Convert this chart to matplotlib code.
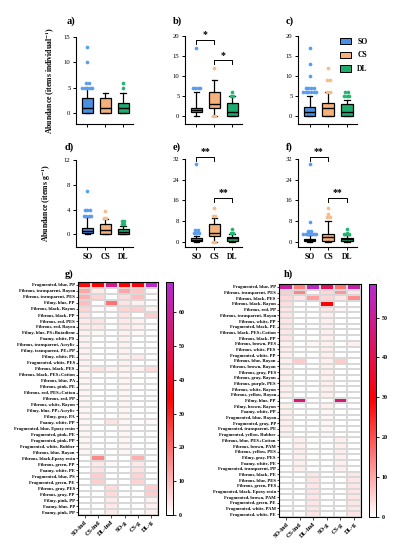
import numpy as np
import matplotlib
matplotlib.use("Agg")
import matplotlib.pyplot as plt
from matplotlib.colors import LinearSegmentedColormap
from matplotlib.patches import Patch

plt.rcParams['font.family'] = ['Liberation Serif', 'DejaVu Serif']
plt.rcParams['mathtext.fontset'] = 'stix'

# ---------------- data ----------------
groups = ["SO", "CS", "DL"]
colors = ["#4a8fe2", "#f4b27a", "#1faa6e"]
flier_colors = ["#5a9cf0", "#f6bd8c", "#22b673"]

# box stats per panel: (q1, median, q3, whisker low, whisker high) for SO, CS, DL
box_a = [(0, 1, 3, 0, 5), (0, 1, 3, 0, 4), (0, 1, 2, 0, 4)]
box_b = [(1, 1.5, 2, 0, 6), (2, 3, 6, 0, 9), (0, 1, 3.2, 0, 5)]
box_c = [(0, 1, 2.2, 0, 5), (0, 2, 3.2, 0, 6), (0, 1, 3, 0, 4)]
box_d = [(0.2, 0.5, 1.0, 0, 2.8), (0, 0.7, 1.7, 0, 2.4), (0.1, 0.4, 0.9, 0, 1.3)]
box_e = [(0.2, 0.6, 1.2, 0, 2.3), (2.2, 3.5, 6.8, 0, 9.1), (0.3, 1.2, 1.9, 0, 2.9)]
box_f = [(0.1, 0.5, 1.0, 0, 2.5), (0.3, 1.8, 3.0, 0, 7.8), (0.2, 0.8, 1.5, 0, 2.5)]

# outlier points per panel (SO, CS, DL)
out_a = [[5, 5, 5, 5, 5, 6, 6, 10, 13], [], [5, 6]]
out_b = [[7, 7, 7, 7, 17], [0, 0, 12], [5, 5, 6]]
out_c = [[6, 6, 6, 6, 6, 6, 7, 7, 7, 7, 10, 13, 17], [6, 6, 9, 9, 12], [5, 5, 5, 6, 6]]
out_d = [[2.9, 2.9, 2.9, 2.9, 3.9, 3.9, 3.9, 7.0], [2.6, 2.6, 3.7], [1.6, 1.6, 2.1, 2.1]]
out_e = [[3.2, 3.2, 3.2, 3.4, 4.3, 4.3, 30], [0, 0, 10, 10, 13], [3.4, 3.4, 5.0]]
out_f = [[3, 3, 3, 3, 3, 3, 3.5, 3.5, 4, 4, 7.4, 30], [9.5, 9.5, 10.5, 13], [3, 3, 3, 3.5, 4.7]]

yticks_a = [0, 5, 10, 15]
yticks_bc = [0, 5, 10, 15, 20]
yticks_d = [0, 4, 8, 12]
yticks_ef = [0, 8, 16, 24, 32]

# significance brackets: (from, to, height, label)
sig_b = [(1, 2, 19, "*"), (2, 3, 13.9, "*")]
sig_e = [(1, 2, 32.9, "**"), (2, 3, 17, "**")]
sig_f = [(1, 2, 32.9, "**"), (2, 3, 17, "**")]

heat_cols = ["SO-ind", "CS-ind", "DL-ind", "SO-g", "CS-g", "DL-g"]

rows_g = ["Fragmented, blue, PP", "Fibrous, transparent, Rayon", "Fibrous, transparent, PES",
          "Filmy, blue, PP", "Fibrous, black, Rayon", "Fibrous, black, PP", "Fibrous, red, PES",
          "Fibrous, red, Rayon", "Filmy, blue, PS+Butadiene", "Foamy, white, PS",
          "Fibrous, transparent, Acrylic", "Filmy, transparent, PE+PP", "Filmy, white, PE",
          "Fragmented, white, PES", "Fibrous, black, PES", "Fibrous, black, PES+Cotton",
          "Fibrous, blue, PA", "Fibrous, pink, PE", "Fibrous, red, PES+Cotton", "Fibrous, red, PP",
          "Fibrous, white, Rayon", "Filmy, blue, PP+Acrylic", "Filmy, gray, PA", "Foamy, white, PP",
          "Fragmented, blue, Epoxy resin", "Fragmented, pink, PE", "Fragmented, pink, PP",
          "Fragmented, white, Rubber", "Fibrous, blue, Rayon", "Fibrous, black,Epoxy resin",
          "Fibrous, green, PP", "Foamy, white, PE", "Fragmented, blue, PS", "Fragmented, green, PE",
          "Fibrous, gray, PES", "Fibrous, gray, PP", "Filmy, pink, PP", "Foamy, blue, PP",
          "Foamy, pink, PP"]

vals_g = [[33, 35, 57, 34, 36, 67],
          [12, 3, 0, 12, 8, 1],
          [11, 6, 0, 5, 9, 0],
          [9, 0, 19, 4, 2, 0],
          [6, 1, 1, 6, 7, 2],
          [4, 0, 0, 4, 0, 7],
          [3, 4, 0, 3, 2, 0],
          [3, 3, 0, 3, 2, 0],
          [2, 1, 0, 2, 1, 0],
          [2, 0, 0, 2, 0, 0],
          [2, 0, 0, 2, 0, 0],
          [2, 0, 0, 2, 0, 0],
          [2, 0, 0, 2, 3, 0],
          [2, 0, 0, 2, 0, 0],
          [2, 4, 2, 2, 2, 5],
          [1.5, 0, 0, 1.5, 0, 0],
          [1.5, 0, 0, 1.5, 0, 0],
          [1.5, 0, 0, 1.5, 0, 0],
          [1.5, 0, 0, 1.5, 0, 0],
          [1.5, 0, 0, 1.5, 0, 0],
          [1.5, 0, 0, 1.5, 0, 0],
          [1.5, 0, 0, 1.5, 0, 0],
          [1.5, 0, 0, 1.5, 0, 0],
          [1.5, 0, 4, 1.5, 0, 1],
          [1.5, 0, 0, 1.5, 0, 0],
          [1.5, 0, 0, 1.5, 0, 0],
          [1.5, 0, 0, 1.5, 0, 0],
          [1.5, 0, 0, 1.5, 0, 0],
          [1.5, 0, 0, 1.5, 0, 0],
          [0, 16, 0, 0, 11, 0],
          [0, 3, 1, 0, 3, 0],
          [0, 4, 0, 0, 4, 0],
          [0, 7, 0, 0, 6, 0],
          [0, 7, 0, 0, 6, 0],
          [0, 0, 5, 0, 0, 7],
          [0, 0, 5, 0, 0, 7],
          [0, 0, 3, 0, 0, 2],
          [0, 0, 3, 0, 0, 2],
          [0, 0, 3, 0, 0, 2]]

rows_h = ["Fragmented, blue, PP", "Fibrous, transparent, PES", "Fibrous, black, PES",
          "Fibrous, black, Rayon", "Fibrous, red, PP", "Fibrous, transparent, Rayon",
          "Fibrous, white, PP", "Fragmented, black, PE", "Fibrous, black, PES+Cotton",
          "Fibrous, black, PP", "Fibrous, brown, PES", "Fibrous, white, PES",
          "Fragmented, white, PP", "Fibrous, blue, Rayon", "Fibrous, brown, Rayon",
          "Fibrous, gray, PES", "Fibrous, gray, Rayon", "Fibrous, purple, PES",
          "Fibrous, white, Rayon", "Fibrous, yellow, Rayon", "Filmy, blue, PP",
          "Filmy, brown, Rayon", "Foamy, white, PP", "Fragmented, blue, Rayon",
          "Fragmented, gray, PP", "Fragmented, transparent, PE", "Fragmented, yellow, Rubber",
          "Fibrous, blue, PES+Cotton", "Fibrous, brown, PAM", "Fibrous, yellow, PES",
          "Filmy, gray, PES", "Foamy, white, PE", "Fragmented, transparent, PP",
          "Fibrous, black, PE", "Fibrous, blue, PES", "Fibrous, green, PES",
          "Fragmented, black, Epoxy resin", "Fragmented, brown, PAM", "Fragmented, green, PE",
          "Fragmented, white, PAM", "Fragmented, white, PE"]

vals_h = [[51, 15, 57, 42, 16, 52],
          [6, 14, 1, 5, 12, 3],
          [5, 3, 11, 5, 3, 13],
          [4, 0, 0, 29, 0, 0],
          [3, 0, 0, 3, 1, 0],
          [3, 0, 0, 2, 0, 0],
          [3, 0, 0, 2, 0, 0],
          [3, 0, 0, 2, 0, 0],
          [3, 0, 0, 2, 0, 0],
          [3, 0, 0, 2, 0, 0],
          [2, 0, 1, 2, 0, 2],
          [2, 0, 0, 2, 0, 0],
          [2, 0, 0, 2, 0, 0],
          [2, 6, 0, 2, 6, 0],
          [2, 0, 0, 2, 0, 0],
          [2, 0, 0, 2, 0, 0],
          [2, 0, 0, 2, 0, 0],
          [2, 0, 0, 2, 0, 0],
          [2, 0, 0, 2, 0, 0],
          [2, 0, 0, 2, 0, 0],
          [0, 46, 0, 0, 46, 0],
          [2, 0, 0, 2, 0, 0],
          [2, 0, 0, 1, 0, 0],
          [2, 0, 0, 1, 0, 0],
          [2, 0, 0, 1, 0, 0],
          [2, 0, 0, 1, 0, 0],
          [2, 0, 0, 1, 0, 0],
          [0, 2, 0, 0, 2, 0],
          [0, 2, 0, 0, 2, 0],
          [0, 2, 0, 0, 2, 0],
          [0, 2, 0, 0, 2, 0],
          [0, 2, 0, 0, 2, 0],
          [0, 2, 0, 0, 2, 0],
          [0, 0, 3, 0, 0, 3],
          [0, 0, 3, 0, 0, 3],
          [0, 0, 3, 0, 0, 3],
          [0, 0, 3, 0, 0, 3],
          [0, 0, 3, 0, 0, 3],
          [0, 0, 3, 0, 0, 3],
          [0, 0, 3, 0, 0, 3],
          [0, 0, 3, 0, 0, 3]]

W, H = 394, 547
fig = plt.figure(figsize=(W / 100, H / 100), dpi=100)


def place(l, t, r, b):
    # pixel box -> figure fraction
    return [l / W, 1 - b / H, (r - l) / W, (b - t) / H]


def spread(vals, step=0.14):
    # side by side offsets for equal values (simple swarm)
    xs = []
    seen = {}
    for v in vals:
        seen[v] = seen.get(v, 0) + 1
    done = {}
    for v in vals:
        n = seen[v]
        k = done.get(v, 0)
        done[v] = k + 1
        xs.append((k - (n - 1) / 2) * step)
    return np.array(xs)


def boxpanel(rect, boxes, outs, ylim, yticks, xlabels, sigs=None):
    ax = fig.add_axes(place(*rect))
    stats = []
    for (q1, med, q3, lo, hi) in boxes:
        stats.append(dict(q1=q1, med=med, q3=q3, whislo=lo, whishi=hi, fliers=[]))
    bp = ax.bxp(stats, positions=[1, 2, 3], widths=0.62, patch_artist=True,
                showfliers=False, capwidths=0.3,
                boxprops=dict(linewidth=0.9, edgecolor="black"),
                medianprops=dict(color="black", linewidth=1.0),
                whiskerprops=dict(color="black", linewidth=0.9),
                capprops=dict(color="black", linewidth=0.9))
    for patch, c in zip(bp["boxes"], colors):
        patch.set_facecolor(c)
    for i, pts in enumerate(outs):
        if pts:
            ax.scatter(i + 1 + spread(pts), pts, s=7, color=flier_colors[i],
                       linewidths=0, zorder=3, clip_on=False)
    ax.set_xlim(0.37, 3.55)
    ax.set_ylim(*ylim)
    ax.set_yticks(yticks)
    ax.set_xticks([1, 2, 3])
    ax.set_xticklabels(xlabels, fontsize=5.5, fontweight="bold")
    ax.spines["top"].set_visible(False)
    ax.spines["right"].set_visible(False)
    ax.spines["left"].set_bounds(ylim[0], yticks[-1])
    for s in ["left", "bottom"]:
        ax.spines[s].set_linewidth(0.8)
    ax.tick_params(axis="y", labelsize=4.8, length=2.5, width=0.7, pad=1.5)
    ax.tick_params(axis="x", length=2.5, width=0.7, pad=2)
    if sigs:
        for x1, x2, y, lab in sigs:
            hgt = (ylim[1] - ylim[0]) * 0.045
            ax.plot([x1, x1, x2, x2], [y - hgt, y, y, y - hgt], color="black",
                    lw=0.7, clip_on=False)
            ax.text((x1 + x2) / 2, y + hgt * 0.15, lab, ha="center", va="bottom",
                    fontsize=7, fontweight="bold", clip_on=False)
    return ax


ax_a = boxpanel((76, 37, 133, 124), box_a, out_a, (-2.2, 15), yticks_a, ["", "", ""])
ax_b = boxpanel((185, 36, 242, 124), box_b, out_b, (-2, 20), yticks_bc, ["", "", ""], sig_b)
ax_c = boxpanel((298, 36, 357, 124), box_c, out_c, (-2, 20), yticks_bc, ["", "", ""])
ax_d = boxpanel((76, 160, 133, 246.7), box_d, out_d, (-2, 12), yticks_d, groups)
ax_e = boxpanel((185, 159, 242, 246.7), box_e, out_e, (-2, 32), yticks_ef, groups, sig_e)
ax_f = boxpanel((298, 159, 357, 246.7), box_f, out_f, (-2, 32), yticks_ef, groups, sig_f)

ax_a.set_ylabel(r"Abundance (items individual$^{\mathbf{-1}}$)", fontsize=5.6,
                fontweight="bold", labelpad=5)
ax_d.set_ylabel(r"Abundance (items g$^{\mathbf{-1}}$)", fontsize=5.6,
                fontweight="bold", labelpad=8)

handles = [Patch(facecolor=c, edgecolor="black", linewidth=0.7) for c in colors]
ax_c.legend(handles, groups, loc="upper left", bbox_to_anchor=(0.72, 0.98),
            frameon=False, handlelength=1.4, handleheight=0.9, labelspacing=0.75,
            borderpad=0, borderaxespad=0, handletextpad=0.8,
            prop=dict(size=5.5, weight="bold"))

# panel letters
for lab, x, y in [("a)", 67, 21), ("b)", 173, 21), ("c)", 286, 21),
                  ("d)", 65, 147), ("e)", 173, 147), ("f)", 286, 147),
                  ("g)", 65, 274), ("h)", 284, 274)]:
    fig.text(x / W, 1 - y / H, lab, fontsize=7.5, fontweight="bold", va="center")

# heatmaps
cmap = LinearSegmentedColormap.from_list("wrp", ["#ffffff", "#ff0000", "#b52bd0"])


def heatpanel(rect, crect, rows, vals, vmax, cticks):
    ax = fig.add_axes(place(*rect))
    data = np.array(vals, dtype=float)
    mesh = ax.pcolormesh(data, cmap=cmap, vmin=0, vmax=vmax,
                         edgecolors="#d8d8d8", linewidth=0.35)
    ax.set_xlim(0, data.shape[1])
    ax.set_ylim(data.shape[0], 0)
    ax.set_yticks(np.arange(len(rows)) + 0.5)
    ax.set_yticklabels(rows, fontsize=3.3, fontweight="bold")
    ax.set_xticks(np.arange(len(heat_cols)) + 0.5)
    ax.set_xticklabels(heat_cols, fontsize=4.5, fontweight="bold", rotation=45,
                       ha="right", rotation_mode="anchor")
    ax.tick_params(axis="y", length=1.5, width=0.5, pad=0.8)
    ax.tick_params(axis="x", length=2, width=0.5, pad=1.5)
    for s in ax.spines.values():
        s.set_linewidth(0.8)
    cax = fig.add_axes(place(*crect))
    cb = fig.colorbar(mesh, cax=cax, ticks=cticks)
    cb.outline.set_linewidth(0.7)
    cax.tick_params(labelsize=4.3, length=2, width=0.6, pad=2)
    for t in cax.get_yticklabels():
        t.set_fontweight("bold")
    return ax


heatpanel((78, 282, 158, 515), (166, 282, 173, 515), rows_g, vals_g, 69,
          [0, 10, 20, 30, 40, 50, 60])
heatpanel((279, 284, 361, 517), (369, 284, 376, 517), rows_h, vals_h, 58.4,
          [0, 10, 20, 30, 40, 50])

fig.savefig("out.png", dpi=100)
